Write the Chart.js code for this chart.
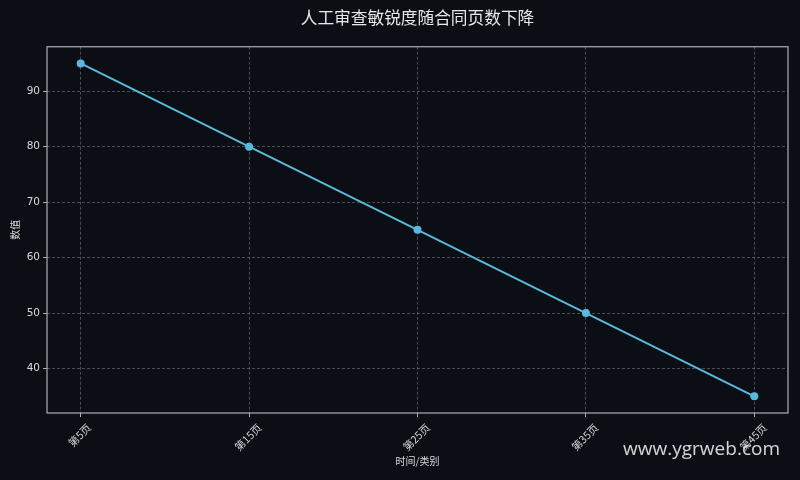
<!DOCTYPE html>
<html>
<head>
<meta charset="utf-8">
<script src="https://cdn.jsdelivr.net/npm/chart.js@4/dist/chart.umd.min.js"></script>
<style>
  html, body { margin: 0; padding: 0; background: #0b0e14; }
  #wrap { position: relative; width: 800px; height: 480px; }
  #wm { position: absolute; right: 20px; top: 435px; font-family: "Open Sans", "DejaVu Sans", sans-serif; font-size: 19px; color: rgba(235,235,235,0.9); }
</style>
</head>
<body>
<div id="wrap">
<canvas id="c" width="800" height="480"></canvas>
<div id="wm">www.ygrweb.com</div>
</div>
<script>
const categories = ["第5页", "第15页", "第25页", "第35页", "第45页"];
const values = [95, 80, 65, 50, 35];
const yTicks = [40, 50, 60, 70, 80, 90];
const titleText = "人工审查敏锐度随合同页数下降";
const xTitle = "时间/类别";
const yTitle = "数值";

const FONT = '"Noto Sans CJK SC", "DejaVu Sans", sans-serif';
const TXT = '#d8d8d8';
const GRID = 'rgba(140,140,140,0.5)';

const boxPlugin = {
  id: 'box',
  afterDatasetsDraw(chart) {
    const a = chart.chartArea, ctx = chart.ctx;
    ctx.save();
    ctx.strokeStyle = '#b0b0b0';
    ctx.lineWidth = 1.2;
    ctx.strokeRect(a.left, a.top, a.right - a.left, a.bottom - a.top);
    ctx.restore();
  },
  afterDraw(chart) {
    const ctx = chart.ctx, xs = chart.scales.x, a = chart.chartArea;
    ctx.save();
    ctx.font = '10.5px ' + FONT;
    ctx.fillStyle = TXT;
    ctx.textAlign = 'center';
    ctx.textBaseline = 'middle';
    categories.forEach((c, i) => {
      const w = ctx.measureText(c).width, h = 10.5;
      const px = xs.getPixelForValue(i);
      const py = a.bottom + 4 + 5 + (w + h) * 0.7071 / 2;
      ctx.save();
      ctx.translate(px - 1, py);
      ctx.rotate(-Math.PI / 4);
      ctx.fillText(c, 0, 0);
      ctx.restore();
    });
    ctx.restore();
  }
};

new Chart(document.getElementById('c'), {
  type: 'line',
  data: {
    datasets: [{
      data: values.map((v, i) => ({ x: i, y: v })),
      borderColor: '#5bb8da',
      backgroundColor: '#5bb8da',
      borderWidth: 2,
      pointRadius: 4,
      pointHoverRadius: 4,
      pointBorderWidth: 0,
      tension: 0
    }]
  },
  options: {
    responsive: false,
    animation: false,
    layout: { padding: { left: 0, right: 12, top: 0, bottom: 0 } },
    plugins: {
      legend: { display: false },
      tooltip: { enabled: false },
      title: {
        display: true,
        fullSize: false,
        text: titleText,
        color: '#e8e8e8',
        font: { family: FONT, size: 16.7, weight: 'normal' },
        padding: { top: 8, bottom: 18.7 }
      }
    },
    scales: {
      x: {
        type: 'linear',
        min: -0.2,
        max: 4.2,
        afterBuildTicks(s) { s.ticks = categories.map((c, i) => ({ value: i })); },
        afterFit(s) { s.height = 67; },
        ticks: {
          display: false
        },
        grid: {
          color: GRID,
          tickBorderDash: [],
          tickColor: '#b0b0b0',
          tickLength: 4,
          drawTicks: true
        },
        border: { display: false, dash: [3, 2] },
        title: {
          display: true,
          text: xTitle,
          color: TXT,
          font: { family: FONT, size: 10 },
          padding: { top: 0, bottom: 13 }
        }
      },
      y: {
        type: 'linear',
        min: 32,
        max: 98,
        afterBuildTicks(s) { s.ticks = yTicks.map(v => ({ value: v })); },
        afterFit(s) { s.width = 47; },
        ticks: {
          color: TXT,
          font: { family: '"DejaVu Sans", sans-serif', size: 10.5 },
          padding: 3
        },
        grid: {
          color: GRID,
          tickBorderDash: [],
          tickColor: '#b0b0b0',
          tickLength: 4
        },
        border: { display: false, dash: [3, 2] },
        title: {
          display: true,
          text: yTitle,
          color: TXT,
          font: { family: FONT, size: 10 },
          padding: { top: 9, bottom: 0 }
        }
      }
    }
  },
  plugins: [boxPlugin]
});
</script>
</body>
</html>
